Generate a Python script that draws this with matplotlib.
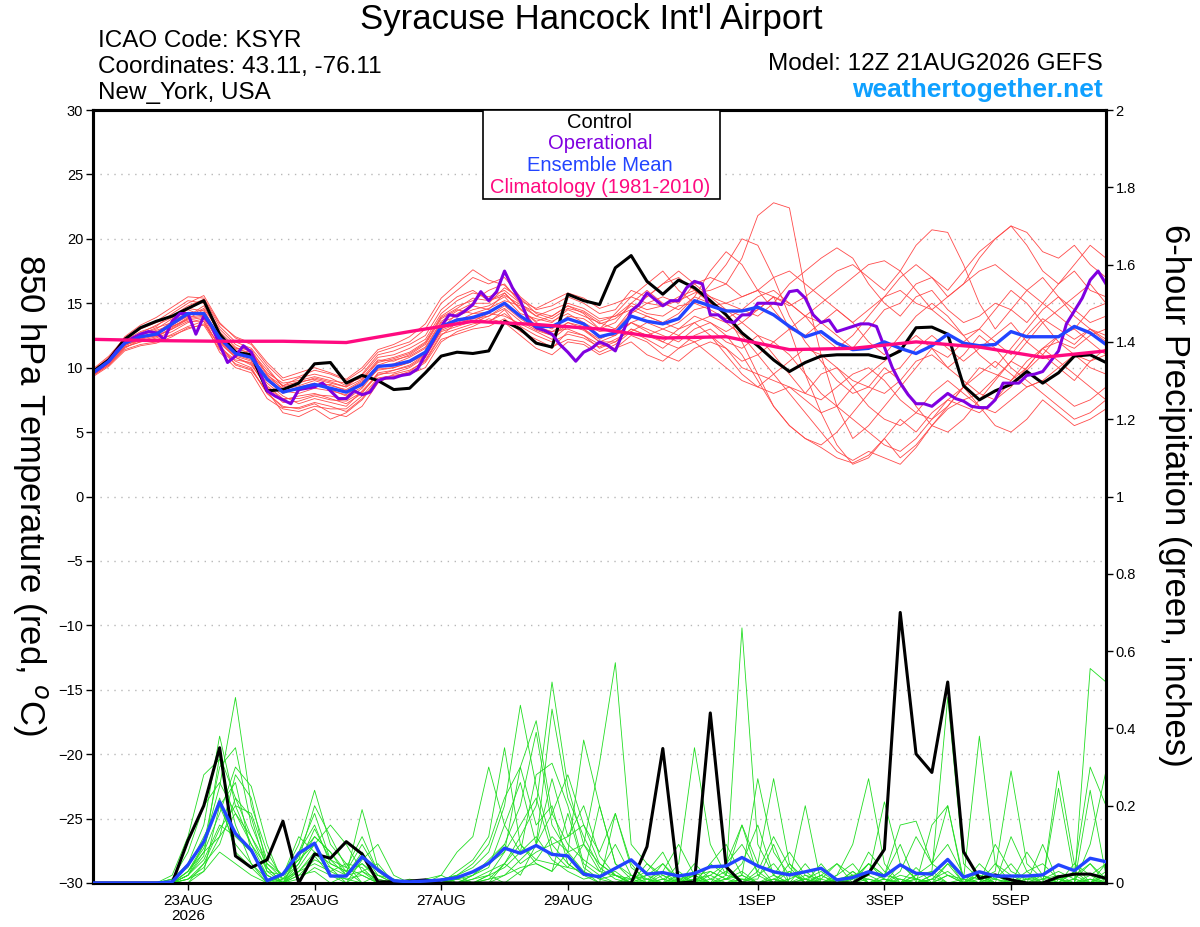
import numpy as np
import pandas as pd
import matplotlib
matplotlib.use('Agg')
import matplotlib.pyplot as plt
from matplotlib.patches import Rectangle

plt.rcParams['font.family'] = ['Liberation Sans', 'DejaVu Sans']

# 6-hourly ensemble times, 3-hourly operational, daily climatology
times = pd.date_range('2026-08-21 12:00', periods=65, freq='6h')
times_op = pd.date_range('2026-08-21 12:00', periods=129, freq='3h')
times_clim = pd.date_range('2026-08-21 12:00', periods=17, freq='24h')

# 850 hPa temperature (C)
control_t = [9.7, 10.6, 12.2, 13.1, 13.6, 14.0, 14.6, 15.2, 12.6, 11.2,
             11.0, 8.2, 8.3, 8.8, 10.3, 10.4, 8.8, 9.4, 9.0, 8.3,
             8.4, 9.6, 10.9, 11.2, 11.1, 11.3, 13.6, 13.0, 11.9, 11.6,
             15.7, 15.2, 14.9, 17.75, 18.7, 16.7, 15.7, 16.8, 16.2, 15.2,
             14.1, 12.7, 11.7, 10.6, 9.7, 10.4, 10.9, 11.0, 11.0, 11.0,
             10.7, 11.3, 13.1, 13.15, 12.6, 8.6, 7.5, 8.2, 8.7, 9.7,
             8.8, 9.6, 10.9, 11.0, 10.4]

operational_t = [9.6, 10.0, 10.5, 11.3, 11.9, 12.3, 12.6, 12.8, 12.7, 12.2,
                 13.6, 14.2, 14.2, 12.6, 14.0, 13.2, 11.8, 10.4, 10.9, 11.7,
                 11.2, 9.8, 8.2, 7.8, 7.5, 7.2, 8.3, 8.4, 8.5, 8.8,
                 8.2, 7.6, 7.6, 8.2, 7.9, 8.1, 9.0, 9.2, 9.2, 9.4,
                 9.5, 9.9, 11.0, 12.1, 13.2, 14.1, 14.0, 14.4, 14.9, 15.9,
                 15.2, 15.9, 17.5, 16.2, 15.2, 13.7, 13.1, 12.9, 12.6, 11.8,
                 11.2, 10.5, 11.2, 11.5, 12.0, 11.75, 11.3, 12.8, 14.4, 14.9,
                 15.8, 15.3, 14.8, 15.2, 15.2, 16.2, 16.7, 16.5, 14.1, 14.1,
                 13.6, 13.5, 14.1, 14.1, 15.0, 15.0, 15.0, 14.9, 15.9, 16.0,
                 15.4, 14.1, 13.5, 13.7, 12.8, 13.0, 13.2, 13.4, 13.4, 13.2,
                 11.6, 10.0, 8.8, 7.9, 7.2, 7.2, 7.0, 7.5, 8.0, 7.6,
                 7.4, 7.0, 6.9, 6.9, 7.5, 8.8, 8.8, 8.8, 9.4, 9.5,
                 9.7, 10.5, 11.3, 13.4, 14.4, 15.4, 16.8, 17.5, 16.5]

mean_t = [9.6, 10.5, 11.9, 12.4, 12.6, 13.4, 14.2, 14.2, 12.3, 11.1,
          10.8, 9.1, 8.1, 8.4, 8.7, 8.4, 8.1, 8.7, 10.1, 10.2,
          10.5, 11.2, 13.2, 13.7, 13.9, 14.3, 15.0, 14.0, 13.2, 13.2,
          13.8, 13.4, 12.4, 12.7, 14.0, 13.6, 13.4, 13.8, 15.2, 14.8,
          14.4, 14.4, 14.7, 14.1, 13.2, 12.4, 12.8, 11.9, 11.4, 11.5,
          12.0, 11.5, 11.1, 11.7, 12.6, 11.9, 11.7, 11.8, 12.8, 12.4,
          12.4, 12.4, 13.2, 12.7, 11.8]

climatology_t = [12.2, 12.1, 12.05, 12.05, 11.95, 12.8, 13.6, 13.35, 13.0,
                 12.3, 12.4, 11.4, 11.5, 12.0, 11.6, 10.8, 11.3]

temp_members = [
    [9.8, 10.8, 12.2, 13.0, 13.5, 14.0, 14.8, 15.3, 13.2, 12.0, 11.5,
     10.0, 8.5, 8.8, 9.2, 8.9, 8.5, 9.5, 11.0, 11.3, 11.8, 12.5,
     14.5, 15.5, 16.0, 15.2, 15.8, 14.5, 13.6, 14.0, 14.8, 14.2, 13.0,
     13.5, 15.0, 14.5, 14.8, 15.5, 16.0, 15.0, 14.2, 12.0, 9.5,
     7.0, 5.5, 4.5, 3.8, 3.0, 2.6, 3.2, 4.5, 3.0, 4.0,
     5.5, 6.8, 7.5, 8.0, 9.2, 10.5, 9.8, 11.0, 12.5, 11.8, 13.0, 12.2],
    [9.5, 10.3, 11.5, 12.2, 12.8, 13.2, 13.8, 14.0, 12.0, 10.8, 10.2,
     8.5, 7.5, 7.8, 8.0, 7.6, 7.2, 8.0, 9.6, 9.8, 10.2, 11.0,
     13.0, 14.2, 14.8, 14.5, 15.8, 14.6, 13.5, 13.0, 14.0, 13.8, 13.0,
     14.2, 15.5, 15.0, 14.8, 15.2, 15.8, 16.0, 16.5, 18.5, 21.8,
     22.8, 22.4, 16.0, 11.0, 7.0, 4.5, 5.5, 7.0, 8.5, 10.0,
     11.5, 10.8, 12.0, 13.0, 12.0, 11.0, 12.5, 13.8, 13.0, 12.2, 13.0, 12.0],
    [9.7, 10.6, 12.0, 12.6, 13.0, 13.8, 14.5, 14.0, 12.5, 11.5, 11.4,
     9.5, 8.3, 8.6, 9.0, 8.6, 8.3, 9.0, 10.5, 10.8, 11.2, 12.0,
     14.0, 14.8, 15.2, 16.0, 16.5, 15.0, 13.0, 12.5, 13.5, 13.0, 12.0,
     12.5, 13.5, 12.8, 12.0, 13.0, 14.0, 13.5, 12.8, 13.5, 14.5,
     15.5, 14.8, 15.5, 16.5, 17.5, 18.0, 17.0, 16.0, 17.5, 19.5,
     20.7, 20.5, 18.0, 15.0, 13.0, 14.5, 16.0, 17.0, 15.5, 14.5, 13.5, 14.0],
    [9.4, 10.2, 11.6, 12.0, 12.3, 12.8, 13.5, 13.8, 11.5, 10.5, 10.0,
     8.0, 7.0, 6.8, 7.2, 6.5, 6.2, 7.0, 8.8, 9.5, 9.8, 10.5,
     12.5, 13.5, 14.0, 13.5, 14.5, 13.0, 12.0, 11.5, 12.8, 12.5, 11.5,
     12.0, 13.0, 12.5, 13.0, 13.5, 14.5, 14.8, 15.0, 15.5, 16.0,
     15.5, 13.0, 9.5, 6.5, 4.0, 2.5, 3.0, 4.5, 6.0, 5.0,
     6.5, 7.5, 8.5, 9.5, 10.5, 9.5, 8.5, 9.0, 10.0, 11.0, 10.5, 11.5],
    [9.6, 10.4, 11.8, 12.5, 12.9, 13.3, 14.0, 14.6, 12.8, 11.6, 11.0,
     9.0, 8.0, 8.5, 8.8, 8.3, 7.8, 8.5, 10.0, 10.3, 10.8, 11.5,
     13.5, 14.0, 14.5, 14.8, 15.5, 14.2, 13.8, 13.5, 14.5, 14.0, 13.5,
     13.0, 14.5, 14.0, 13.5, 14.2, 15.5, 15.0, 14.5, 13.5, 12.5,
     12.0, 13.0, 14.0, 13.5, 12.5, 11.5, 13.0, 14.5, 15.0, 16.5,
     17.0, 16.0, 17.5, 19.0, 20.0, 21.0, 20.5, 19.0, 18.5, 19.5, 18.0, 17.0],
    [9.5, 10.5, 11.7, 12.2, 12.5, 13.0, 13.8, 14.5, 12.2, 11.0, 10.6,
     9.2, 8.2, 8.0, 8.4, 8.2, 7.9, 8.8, 9.8, 10.0, 10.4, 11.0,
     13.2, 13.8, 13.5, 14.0, 14.8, 13.8, 13.0, 12.8, 13.0, 12.5, 11.8,
     11.5, 12.5, 12.0, 11.0, 10.5, 11.5, 12.0, 11.5, 10.0, 9.5,
     9.0, 8.5, 8.0, 9.5, 10.0, 9.0, 8.5, 8.0, 9.0, 10.5,
     11.0, 10.0, 11.0, 12.5, 11.5, 10.0, 9.0, 8.0, 7.0, 6.0, 6.5, 7.5],
    [9.8, 10.7, 12.1, 12.8, 13.2, 14.2, 15.0, 15.6, 13.5, 12.3, 11.8,
     10.2, 9.0, 9.3, 9.8, 9.5, 9.0, 9.8, 11.2, 11.6, 12.0, 13.0,
     15.0, 16.0, 17.0, 16.5, 17.0, 15.5, 14.5, 14.8, 15.5, 15.0, 14.2,
     14.5, 16.0, 15.5, 16.5, 17.5, 16.5, 15.5, 15.0, 14.5, 14.0,
     15.0, 16.5, 17.5, 18.5, 19.3, 18.5, 16.5, 15.0, 14.0, 15.5,
     16.0, 14.5, 13.5, 14.0, 15.0, 14.5, 13.5, 15.0, 16.5, 17.5, 16.0, 15.5],
    [9.5, 10.4, 11.6, 12.0, 12.2, 12.5, 13.0, 13.4, 11.8, 10.2, 9.8,
     8.2, 6.5, 6.2, 6.8, 6.0, 6.5, 7.5, 9.0, 9.2, 9.5, 10.0,
     12.0, 12.8, 13.2, 13.8, 13.5, 12.5, 11.5, 11.0, 12.0, 11.8, 11.0,
     11.5, 12.0, 11.0, 10.5, 11.5, 12.5, 13.0, 12.0, 11.5, 12.5,
     11.0, 9.5, 8.0, 7.5, 8.5, 9.5, 10.0, 9.0, 7.5, 6.5,
     6.0, 7.0, 8.5, 7.0, 5.5, 5.0, 6.0, 7.5, 6.5, 5.5, 6.0, 6.8],
    [9.6, 10.6, 12.0, 12.3, 12.7, 13.6, 14.3, 14.2, 12.0, 11.2, 11.0,
     9.6, 8.8, 9.0, 9.3, 9.0, 8.8, 9.2, 10.6, 10.5, 11.0, 11.8,
     13.8, 14.5, 14.2, 14.6, 15.2, 14.8, 14.0, 13.6, 14.2, 13.5, 12.8,
     13.0, 14.2, 15.0, 15.5, 15.0, 16.5, 17.0, 16.5, 15.5, 16.0,
     17.0, 17.5, 16.5, 15.5, 14.5, 13.5, 14.5, 15.5, 16.0, 15.0,
     14.5, 15.5, 16.5, 17.5, 18.0, 17.0, 16.0, 15.0, 14.0, 13.0, 14.5, 15.0],
    [9.7, 10.5, 11.9, 12.4, 12.4, 13.0, 13.6, 13.6, 11.6, 10.6, 10.4,
     8.8, 7.8, 7.2, 7.6, 7.3, 7.0, 8.2, 9.5, 9.6, 10.0, 10.8,
     12.8, 13.2, 13.6, 14.2, 14.0, 13.4, 12.8, 12.2, 13.2, 13.0, 12.2,
     12.8, 13.5, 13.0, 12.5, 12.0, 13.0, 13.5, 12.5, 11.0, 9.0,
     7.0, 5.5, 4.5, 4.0, 5.0, 6.5, 8.0, 9.5, 10.0, 11.5,
     12.5, 11.5, 10.5, 11.5, 12.5, 13.5, 12.0, 11.0, 10.0, 9.0, 10.5, 11.0],
    [9.9, 10.9, 12.3, 13.1, 13.6, 14.4, 15.2, 15.0, 13.0, 11.8, 11.2,
     9.8, 8.6, 9.2, 9.5, 9.2, 8.6, 9.4, 10.8, 11.0, 11.5, 12.2,
     14.2, 15.2, 15.8, 15.5, 16.0, 15.0, 14.0, 14.5, 15.0, 14.6, 13.8,
     14.0, 15.0, 16.0, 15.0, 14.5, 15.5, 17.5, 19.0, 18.0, 16.0,
     14.5, 13.0, 12.5, 13.5, 14.5, 13.5, 12.0, 11.0, 12.5, 14.0,
     15.0, 14.0, 12.5, 11.0, 10.0, 11.5, 13.0, 14.5, 15.5, 14.0, 13.0, 12.5],
    [9.5, 10.3, 11.8, 12.1, 12.4, 13.1, 13.9, 14.1, 12.1, 10.9, 10.5,
     8.6, 7.6, 7.6, 7.9, 7.8, 7.5, 8.4, 9.9, 10.0, 10.4, 11.2,
     13.0, 13.6, 14.2, 14.3, 15.0, 14.0, 13.2, 12.8, 13.5, 13.2, 12.5,
     12.5, 13.5, 14.0, 13.5, 13.0, 13.5, 14.0, 13.5, 12.5, 11.0,
     9.5, 8.0, 6.5, 5.0, 3.5, 2.8, 3.5, 3.0, 2.5, 3.8,
     5.5, 7.0, 8.5, 10.0, 9.5, 9.0, 10.0, 11.5, 12.0, 11.0, 10.0, 9.5],
    [9.6, 10.5, 11.8, 12.6, 13.1, 13.5, 14.0, 14.8, 12.6, 11.3, 10.8,
     9.3, 8.4, 8.2, 8.6, 8.7, 8.2, 8.9, 10.2, 10.6, 10.9, 11.6,
     13.6, 14.4, 15.0, 15.0, 16.2, 15.4, 14.2, 13.8, 14.6, 14.3, 13.4,
     13.8, 14.8, 14.2, 14.0, 14.8, 15.0, 14.5, 13.8, 14.5, 15.5,
     16.0, 15.0, 14.0, 12.5, 11.5, 12.5, 14.0, 15.5, 17.0, 18.0,
     17.0, 15.5, 16.5, 18.5, 20.0, 21.0, 19.5, 17.5, 16.5, 18.0, 19.5, 18.5],
    [9.4, 10.2, 11.4, 11.8, 12.0, 12.6, 13.2, 13.6, 11.2, 10.0, 9.6,
     7.6, 6.8, 6.6, 7.0, 6.8, 6.8, 7.8, 9.2, 9.4, 9.6, 10.4,
     12.2, 12.6, 13.0, 13.2, 13.8, 12.8, 12.2, 11.6, 12.2, 12.0, 11.2,
     11.8, 12.8, 13.5, 13.0, 12.5, 12.0, 11.0, 10.0, 9.0, 8.5,
     9.5, 10.5, 11.5, 11.0, 10.0, 8.5, 7.0, 6.0, 5.5, 6.5,
     8.0, 9.0, 8.0, 7.0, 6.5, 7.5, 8.5, 9.0, 8.0, 7.0, 7.5, 8.5],
    [9.7, 10.7, 12.4, 13.3, 13.9, 14.7, 15.5, 15.4, 13.4, 12.4, 11.9,
     10.4, 9.2, 9.6, 10.0, 9.6, 9.1, 10.0, 11.4, 11.8, 12.4, 13.4,
     15.4, 16.5, 17.6, 16.8, 16.4, 15.2, 14.6, 15.2, 15.8, 15.4, 14.6,
     15.0, 15.5, 16.5, 17.5, 16.0, 15.0, 16.5, 18.0, 20.0, 19.5,
     17.0, 14.0, 12.0, 10.5, 9.0, 8.0, 8.5, 10.0, 9.0, 7.0,
     5.5, 5.0, 6.0, 7.5, 9.0, 10.5, 12.0, 13.5, 14.5, 15.5, 16.5, 15.0],
    [9.3, 10.1, 11.3, 11.7, 11.9, 12.4, 13.1, 13.3, 11.4, 10.3, 9.9,
     8.0, 6.9, 6.9, 7.3, 7.0, 6.6, 7.6, 9.1, 9.3, 9.7, 10.6,
     12.6, 13.0, 13.4, 13.6, 14.2, 13.2, 12.5, 12.0, 12.6, 12.3, 11.6,
     12.2, 12.8, 12.2, 11.5, 12.5, 13.5, 12.5, 11.5, 10.5, 11.0,
     12.0, 11.0, 9.5, 8.0, 7.0, 6.0, 5.0, 4.0, 3.5, 4.5,
     6.0, 7.5, 7.0, 6.5, 7.5, 9.0, 10.5, 11.5, 10.5, 9.5, 8.5, 7.5],
    [9.6, 10.5, 11.9, 12.7, 13.3, 13.9, 14.6, 14.4, 12.4, 11.4, 11.2,
     9.4, 8.6, 8.9, 9.1, 8.8, 8.5, 9.1, 10.4, 10.7, 11.1, 11.9,
     13.9, 14.6, 15.4, 15.2, 15.6, 14.9, 14.3, 14.0, 14.8, 14.4, 13.6,
     14.0, 14.5, 15.5, 16.5, 17.0, 16.0, 15.5, 14.5, 14.0, 14.5,
     15.5, 15.0, 14.0, 15.0, 16.0, 17.0, 18.0, 18.3, 17.5, 16.0,
     14.5, 13.5, 12.5, 13.0, 14.5, 16.0, 15.0, 13.5, 12.0, 11.5, 12.5, 13.0],
    [9.5, 10.4, 11.7, 12.3, 12.6, 13.2, 13.7, 13.9, 11.9, 10.8, 10.3,
     8.4, 7.3, 7.4, 7.8, 7.5, 7.4, 8.1, 9.4, 9.8, 10.1, 10.9,
     12.9, 13.4, 13.8, 14.0, 14.6, 13.6, 12.9, 12.5, 13.3, 12.9, 12.0,
     12.0, 13.0, 12.5, 12.0, 11.5, 12.0, 12.5, 11.0, 9.5, 8.5,
     8.0, 8.5, 7.5, 6.5, 7.0, 8.5, 9.5, 10.5, 11.5, 12.5,
     11.5, 10.0, 9.0, 8.0, 7.5, 8.5, 10.0, 11.5, 12.5, 13.0, 12.0, 11.0],
]

# 6-hour precipitation (inches)
control_p = [0, 0, 0, 0, 0, 0, 0.11, 0.20, 0.35, 0.07,
             0.04, 0.06, 0.16, 0.0, 0.075, 0.064, 0.107, 0.075, 0.003, 0.003,
             0.005, 0.008, 0, 0, 0, 0, 0, 0, 0, 0,
             0, 0, 0, 0, 0, 0.094, 0.348, 0, 0.003, 0.44,
             0.042, 0, 0, 0, 0, 0, 0, 0, 0, 0.025,
             0.087, 0.70, 0.334, 0.286, 0.52, 0.081, 0.012, 0.021, 0.008, 0,
             0, 0.016, 0.023, 0.023, 0.012]

mean_p = [0, 0, 0, 0, 0, 0.003, 0.047, 0.107, 0.21, 0.128,
          0.085, 0.006, 0.023, 0.077, 0.103, 0.018, 0.018, 0.068, 0.034, 0.006,
          0.003, 0.005, 0.008, 0.014, 0.029, 0.051, 0.09, 0.077, 0.097, 0.074,
          0.07, 0.023, 0.016, 0.038, 0.06, 0.023, 0.027, 0.018, 0.025, 0.042,
          0.044, 0.066, 0.044, 0.029, 0.021, 0.029, 0.038, 0.008, 0.014, 0.029,
          0.018, 0.047, 0.025, 0.023, 0.061, 0.015, 0.029, 0.018, 0.018, 0.018,
          0.021, 0.047, 0.032, 0.064, 0.055]

precip_members = [
    [0, 0, 0, 0, 0, 0.01, 0.05, 0.15, 0.38, 0.20, 0.10, 0.02, 0.00, 0.05, 0.12,
     0.08, 0.02, 0.05, 0.01, 0.00, 0, 0, 0.01, 0.00, 0.02, 0.05, 0.10, 0.20, 0.39, 0.15,
     0.08, 0.37, 0.20, 0.05, 0.02, 0.00, 0.01, 0.03, 0.00, 0.05, 0.10, 0.02, 0.00, 0.01, 0.03,
     0.00, 0.02, 0.00, 0.01, 0.05, 0.02, 0.15, 0.16, 0.05, 0.20, 0.00, 0.02, 0.01, 0.00, 0.03,
     0.05, 0.01, 0.00, 0.10, 0.29],
    [0, 0, 0, 0, 0, 0.00, 0.03, 0.10, 0.25, 0.48, 0.20, 0.08, 0.01, 0.03, 0.08,
     0.05, 0.03, 0.00, 0.02, 0.01, 0, 0, 0, 0.03, 0.06, 0.12, 0.35, 0.10, 0.05, 0.03,
     0.08, 0.10, 0.31, 0.57, 0.10, 0.05, 0.02, 0.00, 0.01, 0.00, 0.02, 0.66, 0.10, 0.02, 0.00,
     0.01, 0.00, 0.00, 0.03, 0.00, 0.01, 0.00, 0.02, 0.03, 0.00, 0.00, 0.05, 0.01, 0.00, 0.00,
     0.02, 0.00, 0.03, 0.30, 0.20],
    [0, 0, 0, 0, 0, 0.02, 0.12, 0.28, 0.32, 0.15, 0.05, 0.00, 0.02, 0.10, 0.24,
     0.10, 0.05, 0.00, 0.00, 0.00, 0, 0, 0.01, 0.02, 0.04, 0.08, 0.20, 0.46, 0.25, 0.10,
     0.05, 0.02, 0.00, 0.18, 0.05, 0.00, 0.00, 0.05, 0.35, 0.10, 0.02, 0.01, 0.00, 0.00, 0.05,
     0.01, 0.00, 0.02, 0.10, 0.27, 0.05, 0.00, 0.01, 0.00, 0.05, 0.00, 0.02, 0.00, 0.01, 0.00,
     0.00, 0.29, 0.05, 0.00, 0.02],
    [0, 0, 0, 0, 0, 0.00, 0.02, 0.08, 0.18, 0.30, 0.25, 0.10, 0.00, 0.04, 0.10,
     0.15, 0.10, 0.03, 0.00, 0.00, 0, 0, 0, 0, 0.01, 0.03, 0.05, 0.12, 0.20, 0.52,
     0.25, 0.10, 0.05, 0.02, 0.00, 0.01, 0.03, 0.00, 0.02, 0.00, 0.05, 0.15, 0.05, 0.27, 0.05,
     0.00, 0.00, 0.01, 0.02, 0.01, 0.00, 0.05, 0.01, 0.03, 0.48, 0.05, 0.01, 0.00, 0.00, 0.02,
     0.00, 0.00, 0.01, 0.05, 0.00],
    [0, 0, 0, 0, 0, 0.00, 0.01, 0.05, 0.10, 0.22, 0.12, 0.03, 0.00, 0.08, 0.18,
     0.06, 0.02, 0.19, 0.04, 0.00, 0, 0.01, 0.02, 0.08, 0.12, 0.30, 0.15, 0.08, 0.28, 0.31,
     0.20, 0.05, 0.02, 0.00, 0.00, 0.02, 0.05, 0.01, 0.00, 0.03, 0.01, 0.00, 0.02, 0.05, 0.00,
     0.02, 0.01, 0.05, 0.00, 0.02, 0.21, 0.05, 0.01, 0.00, 0.02, 0.01, 0.38, 0.05, 0.02, 0.00,
     0.01, 0.03, 0.01, 0.00, 0.00],
    [0, 0, 0, 0, 0, 0.01, 0.04, 0.12, 0.20, 0.10, 0.05, 0.01, 0.00, 0.02, 0.06,
     0.04, 0.02, 0.08, 0.02, 0.00, 0, 0, 0, 0, 0, 0.00, 0.05, 0.02, 0.10, 0.18,
     0.28, 0.15, 0.05, 0.02, 0.01, 0.00, 0.02, 0.00, 0.05, 0.01, 0.00, 0.02, 0.27, 0.08, 0.02,
     0.01, 0.03, 0.00, 0.00, 0.00, 0.02, 0.01, 0.00, 0.15, 0.20, 0.01, 0.00, 0.10, 0.03, 0.01,
     0.00, 0.245, 0.02, 0.00, 0.05],
    [0, 0, 0, 0, 0, 0.00, 0.02, 0.06, 0.15, 0.12, 0.08, 0.02, 0.00, 0.03, 0.05,
     0.03, 0.01, 0.00, 0.00, 0.00, 0.01, 0.00, 0.00, 0.01, 0.03, 0.05, 0.08, 0.30, 0.15, 0.20,
     0.05, 0.02, 0.20, 0.05, 0.01, 0.03, 0.08, 0.00, 0.00, 0.02, 0.05, 0.10, 0.03, 0.00, 0.01,
     0.20, 0.00, 0.02, 0.05, 0.00, 0.00, 0.02, 0.01, 0.00, 0.00, 0.00, 0.01, 0.03, 0.29, 0.05,
     0.01, 0.02, 0.00, 0.555, 0.52],
    [0, 0, 0, 0, 0, 0.00, 0.00, 0.03, 0.08, 0.05, 0.02, 0.00, 0.01, 0.08, 0.15,
     0.05, 0.03, 0.10, 0.03, 0.01, 0, 0, 0, 0, 0.02, 0.06, 0.10, 0.05, 0.08, 0.10,
     0.12, 0.15, 0.08, 0.18, 0.04, 0.01, 0.00, 0.02, 0.00, 0.00, 0.01, 0.03, 0.00, 0.02, 0.08,
     0.02, 0.00, 0.00, 0.01, 0.05, 0.02, 0.10, 0.00, 0.01, 0.05, 0.02, 0.01, 0.00, 0.00, 0.08,
     0.02, 0.00, 0.05, 0.02, 0.00],
    [0, 0, 0, 0, 0, 0.01, 0.08, 0.20, 0.26, 0.18, 0.12, 0.05, 0.02, 0.06, 0.20,
     0.12, 0.04, 0.02, 0.00, 0.00, 0, 0, 0, 0.01, 0.00, 0.02, 0.04, 0.08, 0.12, 0.06,
     0.03, 0.01, 0.02, 0.03, 0.00, 0.00, 0.05, 0.00, 0.03, 0.00, 0.01, 0.05, 0.15, 0.02, 0.00,
     0.00, 0.02, 0.05, 0.02, 0.00, 0.00, 0.00, 0.02, 0.05, 0.02, 0.00, 0.00, 0.05, 0.00, 0.00,
     0.10, 0.00, 0.00, 0.02, 0.05],
    [0, 0, 0, 0, 0, 0.00, 0.02, 0.07, 0.33, 0.22, 0.17, 0.03, 0.02, 0.12, 0.08,
     0.03, 0.05, 0.04, 0.00, 0.00, 0, 0, 0.02, 0.00, 0.00, 0.01, 0.02, 0.06, 0.10, 0.27,
     0.12, 0.20, 0.07, 0.02, 0.00, 0.05, 0.01, 0.00, 0.00, 0.01, 0.03, 0.00, 0.05, 0.00, 0.03,
     0.00, 0.05, 0.00, 0.00, 0.08, 0.03, 0.00, 0.01, 0.00, 0.02, 0.00, 0.02, 0.00, 0.00, 0.01,
     0.01, 0.00, 0.03, 0.00, 0.02],
    [0, 0, 0, 0, 0, 0.00, 0.01, 0.04, 0.12, 0.28, 0.22, 0.04, 0.00, 0.01, 0.04,
     0.02, 0.00, 0.06, 0.10, 0.02, 0, 0, 0, 0, 0, 0.00, 0.02, 0.04, 0.05, 0.03,
     0.18, 0.04, 0.01, 0.00, 0.02, 0.00, 0.00, 0.01, 0.02, 0.00, 0.00, 0.01, 0.01, 0.10, 0.00,
     0.05, 0.00, 0.00, 0.02, 0.03, 0.01, 0.00, 0.00, 0.02, 0.06, 0.00, 0.00, 0.02, 0.00, 0.00,
     0.00, 0.01, 0.00, 0.24, 0.02],
    [0, 0, 0, 0, 0, 0.00, 0.03, 0.09, 0.22, 0.08, 0.04, 0.00, 0.00, 0.02, 0.03,
     0.00, 0.02, 0.03, 0.01, 0.00, 0, 0, 0, 0, 0, 0.02, 0.00, 0.03, 0.06, 0.05,
     0.04, 0.10, 0.03, 0.02, 0.00, 0.00, 0.00, 0.00, 0.01, 0.02, 0.00, 0.00, 0.00, 0.01, 0.00,
     0.01, 0.00, 0.00, 0.00, 0.00, 0.01, 0.00, 0.00, 0.02, 0.00, 0.00, 0.00, 0.00, 0.00, 0.00,
     0.00, 0.00, 0.00, 0.01, 0.00],
    [0, 0, 0, 0, 0, 0.00, 0.02, 0.10, 0.30, 0.35, 0.15, 0.05, 0.01, 0.05, 0.14,
     0.06, 0.04, 0.12, 0.03, 0.00, 0, 0, 0, 0.02, 0.05, 0.10, 0.22, 0.30, 0.42, 0.18,
     0.10, 0.06, 0.03, 0.10, 0.02, 0.01, 0.00, 0.02, 0.00, 0.05, 0.02, 0.15, 0.02, 0.00, 0.01,
     0.03, 0.00, 0.01, 0.00, 0.02, 0.00, 0.03, 0.12, 0.05, 0.10, 0.02, 0.00, 0.01, 0.05, 0.00,
     0.00, 0.01, 0.02, 0.05, 0.01],
    [0, 0, 0, 0, 0, 0.00, 0.00, 0.05, 0.14, 0.20, 0.18, 0.06, 0.02, 0.06, 0.10,
     0.04, 0.00, 0.03, 0.05, 0.00, 0, 0, 0, 0.01, 0.02, 0.04, 0.15, 0.26, 0.10, 0.45,
     0.22, 0.12, 0.04, 0.01, 0.00, 0.00, 0.03, 0.10, 0.02, 0.00, 0.00, 0.00, 0.03, 0.12, 0.04,
     0.00, 0.02, 0.00, 0.00, 0.05, 0.01, 0.00, 0.04, 0.00, 0.00, 0.00, 0.03, 0.00, 0.12, 0.03,
     0.00, 0.00, 0.01, 0.00, 0.03],
    [0, 0, 0, 0, 0, 0.00, 0.01, 0.03, 0.20, 0.26, 0.08, 0.02, 0.00, 0.03, 0.07,
     0.02, 0.01, 0.02, 0.00, 0.00, 0, 0, 0, 0, 0.01, 0.02, 0.08, 0.15, 0.22, 0.08,
     0.04, 0.03, 0.00, 0.00, 0.01, 0.02, 0.00, 0.00, 0.01, 0.00, 0.00, 0.01, 0.00, 0.00, 0.00,
     0.00, 0.01, 0.00, 0.03, 0.00, 0.00, 0.00, 0.00, 0.01, 0.00, 0.01, 0.00, 0.00, 0.00, 0.00,
     0.00, 0.00, 0.00, 0.00, 0.01],
    [0, 0, 0, 0, 0, 0.00, 0.03, 0.08, 0.12, 0.18, 0.10, 0.04, 0.00, 0.07, 0.12,
     0.08, 0.03, 0.05, 0.02, 0.00, 0, 0, 0.01, 0.02, 0.00, 0.01, 0.05, 0.10, 0.06, 0.12,
     0.08, 0.03, 0.01, 0.02, 0.00, 0.00, 0.01, 0.00, 0.02, 0.03, 0.01, 0.02, 0.00, 0.01, 0.00,
     0.00, 0.00, 0.01, 0.00, 0.01, 0.00, 0.01, 0.00, 0.01, 0.03, 0.00, 0.00, 0.02, 0.00, 0.01,
     0.02, 0.00, 0.00, 0.01, 0.00],
]

tick_dates = pd.to_datetime(['2026-08-23', '2026-08-25', '2026-08-27', '2026-08-29',
                             '2026-09-01', '2026-09-03', '2026-09-05'])
tick_labels = ['23AUG\n2026', '25AUG', '27AUG', '29AUG', '1SEP', '3SEP', '5SEP']

red = '#ff4a4a'
green = '#22dd22'
purple = '#8000e0'
blue = '#2244ff'
pink = '#ff0a80'

W, H = 1200, 927
fig = plt.figure(figsize=(W / 100, H / 100), dpi=100)
ax = fig.add_axes([93 / W, 44 / H, 1013 / W, 773 / H])
ax2 = ax.twinx()

for m in temp_members:
    ax.plot(times, m, color=red, lw=0.6, zorder=2)
ax.plot(times, control_t, color='black', lw=2.2, zorder=4)
ax.plot(times_op, operational_t, color=purple, lw=2.2, zorder=5)
ax.plot(times, mean_t, color=blue, lw=2.4, zorder=6)
ax.plot(times_clim, climatology_t, color=pink, lw=2.4, zorder=7)

for m in precip_members:
    ax2.plot(times, m, color=green, lw=0.6, zorder=2)
ax2.plot(times, control_p, color='black', lw=2.2, zorder=4)
ax2.plot(times, mean_p, color=blue, lw=2.4, zorder=6)

ax.set_xlim(times[0], times[-1])
ax.set_ylim(-30, 30)
ax.set_yticks(range(-30, 31, 5))
ax.grid(axis='y', color='#b8b8b8', lw=1.0, ls=(0, (1, 4)))
ax.set_xticks(tick_dates)
ax.set_xticklabels(tick_labels, fontsize=11, linespacing=1.05)
ax.tick_params(axis='y', labelsize=10.5, length=5, width=1, pad=2)
ax.tick_params(axis='x', length=5, width=1, pad=3)

ax2.set_ylim(0, 2)
pticks = np.arange(0, 2.01, 0.2)
ax2.set_yticks(pticks)
ax2.set_yticklabels([f'{v:g}' for v in pticks])
ax2.tick_params(axis='y', labelsize=10.5, length=5, width=1, pad=2)

for a in (ax, ax2):
    for s in a.spines.values():
        s.set_linewidth(2.2)

# legend box
ax2.add_patch(Rectangle((0.385, 0.885), 0.234, 0.115, transform=ax2.transAxes,
                        facecolor='white', edgecolor='black', lw=1.2, zorder=20))
leg_items = [('Control', 'black'), ('Operational', purple),
             ('Ensemble Mean', blue), ('Climatology (1981-2010)', pink)]
for k, (txt, col) in enumerate(leg_items):
    fig.text(600 / W, 1 - (122 + 21.7 * k) / H, txt, color=col, fontsize=14.5,
             ha='center', va='center', zorder=30)

fig.text(591 / W, 1 - 20 / H, "Syracuse Hancock Int'l Airport", fontsize=25,
         ha='center', va='center')
fig.text(98 / W, 1 - 41 / H, 'ICAO Code: KSYR', fontsize=17.5, ha='left', va='center')
fig.text(98 / W, 1 - 67 / H, 'Coordinates: 43.11, -76.11', fontsize=17.5, ha='left', va='center')
fig.text(98 / W, 1 - 93 / H, 'New_York, USA', fontsize=17.5, ha='left', va='center')
fig.text(1103 / W, 1 - 64 / H, 'Model: 12Z 21AUG2026 GEFS', fontsize=17.5, ha='right', va='center')
fig.text(1103 / W, 1 - 90 / H, 'weathertogether.net', fontsize=19, fontweight='bold',
         color='#0fa0ff', ha='right', va='center')

fig.text(30 / W, 1 - 495 / H, '850 hPa Temperature (red, $^o$C)', fontsize=25,
         rotation=-90, ha='center', va='center')
fig.text(1175 / W, 1 - 495 / H, '6-hour Precipitation (green, inches)', fontsize=25,
         rotation=-90, ha='center', va='center')

fig.savefig('out.png', dpi=100)
